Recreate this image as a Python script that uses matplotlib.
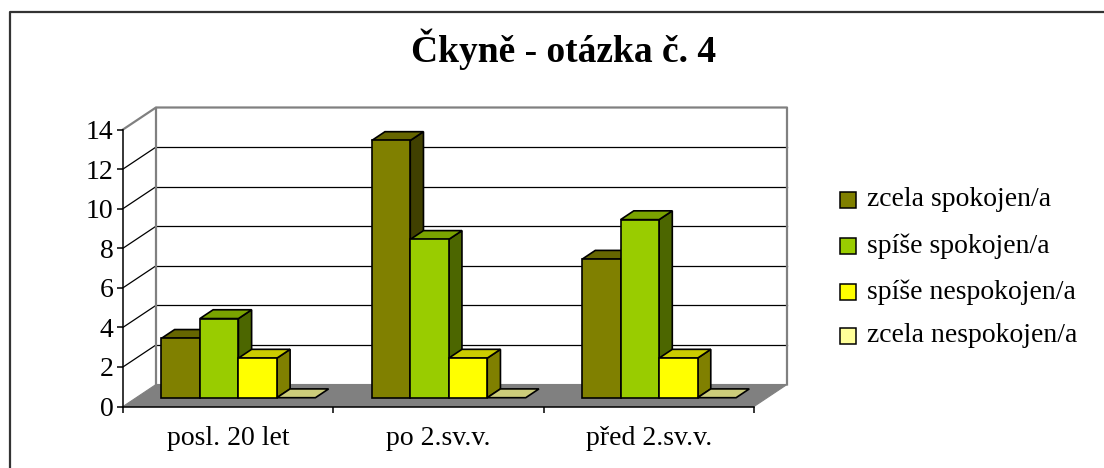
import matplotlib
matplotlib.use("Agg")
import matplotlib.pyplot as plt
from matplotlib.patches import Polygon, Rectangle

plt.rcParams['font.family'] = ['Liberation Serif', 'DejaVu Serif']

# ---- data ----
title = "Čkyně - otázka č. 4"
categories = ["posl. 20 let", "po 2.sv.v.", "před 2.sv.v."]
series_names = ["zcela spokojen/a", "spíše spokojen/a", "spíše nespokojen/a", "zcela nespokojen/a"]
zcela_spokojen = [3, 13, 7]
spise_spokojen = [4, 8, 9]
spise_nespokojen = [2, 2, 2]
zcela_nespokojen = [0, 0, 0]
series_values = [zcela_spokojen, spise_spokojen, spise_nespokojen, zcela_nespokojen]
yticks = [0, 2, 4, 6, 8, 10, 12, 14]

# ---- style ----
front_colors = ["#808000", "#99CC00", "#FFFF00", "#FFFF99"]
side_colors = ["#404000", "#4C6600", "#808000", "#80804C"]
top_colors = ["#666600", "#7AA300", "#CCCC00", "#CCCC7A"]

W, H = 1104, 468
fig = plt.figure(figsize=(W / 100, H / 100), dpi=100)

def px(x0, y0, w, h):
    return [x0 / W, 1 - (y0 + h) / H, w / W, h / H]

ax = fig.add_axes(px(123, 129.5, 631, 277))
ax.set_xlim(0, 3)
ax.set_ylim(0, 14)

dx = 33 / (631 / 3)      # depth shift in category units
dy = 22 / (277 / 14)     # depth shift in value units
f0, f1 = 0.4, 0.8        # bar depth fractions
bw = 0.183
g0 = 0.12
ncat = len(categories)

# back wall
ax.add_patch(Polygon([(dx, dy), (ncat + dx, dy), (ncat + dx, 14 + dy), (dx, 14 + dy)],
                     closed=True, facecolor="white", edgecolor="none", zorder=0, clip_on=False))
# floor
ax.add_patch(Polygon([(0, 0), (ncat, 0), (ncat + dx, dy), (dx, dy)], closed=True,
                     facecolor="#808080", edgecolor="#808080", lw=0.8, zorder=1, clip_on=False))
# gridlines on back wall and side wall
for v in yticks[1:-1]:
    ax.plot([dx, ncat + dx], [v + dy, v + dy], color="black", lw=0.9, zorder=0.5, clip_on=False)
    ax.plot([0, dx], [v, v + dy], color="black", lw=0.9, zorder=0.5, clip_on=False)
# wall borders (gray)
ax.plot([0, dx, ncat + dx, ncat + dx], [14, 14 + dy, 14 + dy, dy],
        color="#808080", lw=1.6, zorder=0.6, clip_on=False)
ax.plot([dx, dx], [dy, 14 + dy], color="#808080", lw=1.6, zorder=0.6, clip_on=False)

# bars
ddx = (f1 - f0) * dx
ddy = (f1 - f0) * dy
base = f0 * dy
for k, vals in enumerate(series_values):
    for i, v in enumerate(vals):
        xl = i + g0 + k * bw + f0 * dx
        xr = xl + bw
        z = 3 + k
        if v > 0:
            ax.add_patch(Polygon([(xr, base), (xr + ddx, base + ddy), (xr + ddx, base + v + ddy), (xr, base + v)],
                                 closed=True, facecolor=side_colors[k], edgecolor="black", lw=1.2,
                                 zorder=z, clip_on=False))
        ax.add_patch(Polygon([(xl, base + v), (xr, base + v), (xr + ddx, base + v + ddy), (xl + ddx, base + v + ddy)],
                             closed=True, facecolor=top_colors[k], edgecolor="black", lw=1.2,
                             zorder=z, clip_on=False))
        if v > 0:
            ax.bar(xl, v, width=bw, bottom=base, align="edge", color=front_colors[k],
                   edgecolor="black", lw=1.2, zorder=z, clip_on=False)

# axes styling
for s in ["top", "right"]:
    ax.spines[s].set_visible(False)
for s in ["left", "bottom"]:
    ax.spines[s].set_color("black")
    ax.spines[s].set_linewidth(1.1)
    ax.spines[s].set_zorder(10)
ax.patch.set_visible(False)
ax.set_yticks(yticks)
ax.set_yticklabels([str(t) for t in yticks])
ax.set_xticks(range(ncat + 1))
ax.set_xticklabels([])
ax.set_xticks([i + 0.5 for i in range(ncat)], minor=True)
ax.set_xticklabels(categories, minor=True)
ax.tick_params(axis="y", direction="out", length=4, width=1.1, color="black", labelsize=20, pad=3)
ax.tick_params(axis="x", which="major", direction="out", length=4.5, width=1.1, color="black")
ax.tick_params(axis="x", which="minor", length=0, labelsize=20, pad=14)

# title
fig.text(564 / W, 1 - 62 / H, title, ha="center", va="baseline", fontsize=27, fontweight="bold")

# legend
leg_y = [200, 246, 292, 336]
for k, name in enumerate(series_names):
    fig.add_artist(Rectangle((840 / W, 1 - (leg_y[k] + 8) / H), 16 / W, 16 / H,
                             facecolor=front_colors[k], edgecolor="black", lw=1.1,
                             transform=fig.transFigure))
    fig.text(867 / W, 1 - leg_y[k] / H, name, ha="left", va="center", fontsize=20)

# outer frame (left and top edges visible)
fig.add_artist(plt.Line2D([9.5 / W, 9.5 / W, 1.0], [0, 1 - 11.5 / H, 1 - 11.5 / H],
                          color="#333333", lw=1.6, transform=fig.transFigure))

fig.savefig("out.png", dpi=100)
